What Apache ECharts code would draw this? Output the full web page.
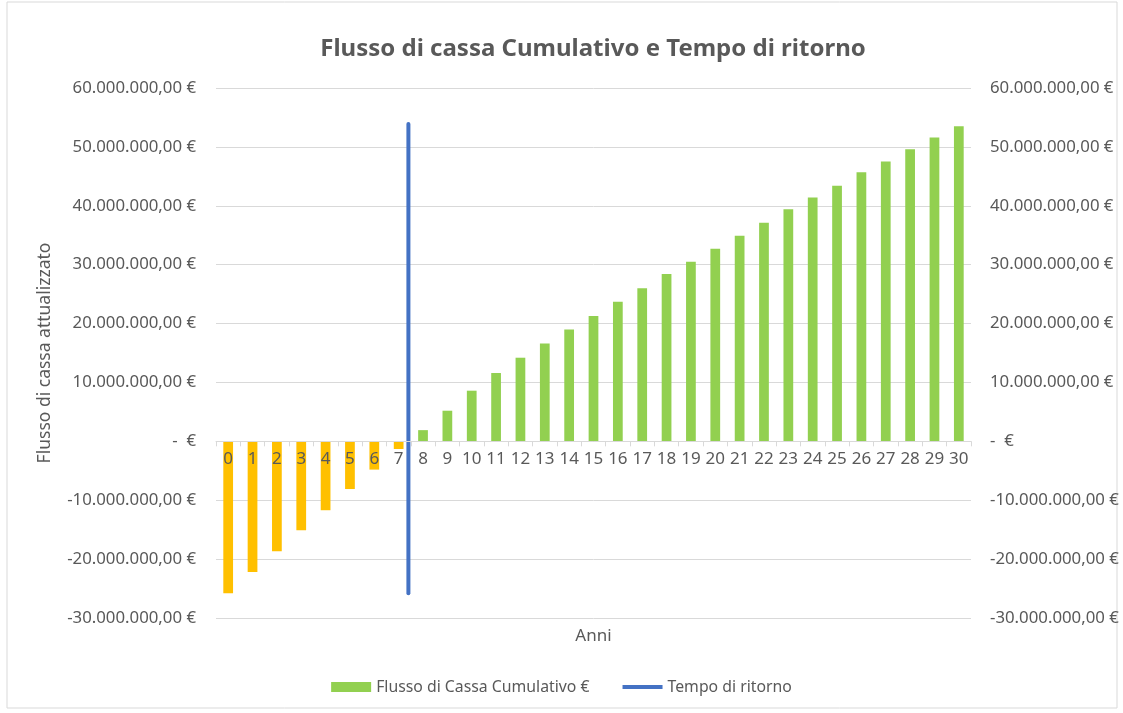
<!DOCTYPE html>
<html>
<head>
<meta charset="UTF-8">
<title>Flusso di cassa Cumulativo</title>
<script src="https://cdn.jsdelivr.net/npm/echarts@6/dist/echarts.min.js"></script>
<style>
  html, body { margin: 0; padding: 0; background: #fff; }
</style>
</head>
<body>
<div id="main" style="width: 1123px;height:713px;"></div>
<script type="text/javascript">
        // dati
        var anni = [];
        for (var i = 0; i <= 30; i++) anni.push(String(i));
        var flussoCumulativo = [
            -25800000, -22200000, -18650000, -15100000, -11700000, -8100000, -4800000, -1300000,
            1900000, 5200000, 8600000, 11600000, 14200000, 16600000, 19000000, 21300000,
            23700000, 26000000, 28400000, 30500000, 32700000, 34900000, 37100000, 39400000,
            41400000, 43400000, 45700000, 47500000, 49600000, 51600000, 53500000
        ];
        var tempoRitornoX = [7.4, 7.4];
        var tempoRitornoY = [-25800000, 53900000];

        var grigio = '#595959';
        var font = 'Noto Sans';
        var yMin = -30000000, yMax = 60000000;

        function euro(v) {
            if (v === 0) return '-  €';
            var neg = v < 0;
            var s = Math.abs(v).toFixed(0).replace(/\B(?=(\d{3})+(?!\d))/g, '.');
            return (neg ? '-' : '') + s + ',00 €';
        }

        var myChart = echarts.init(document.getElementById('main'));

        var gridTop = 88, gridBottom = 95;
        var plotH = 713 - gridTop - gridBottom;
        // sposta l'asse delle categorie sullo zero dell'asse valori
        var zeroOffset = -plotH * (0 - yMin) / (yMax - yMin);

        var barData = flussoCumulativo.map(function (v) {
            return v < 0 ? { value: v, itemStyle: { color: '#FFC000' } } : v;
        });
        var lineData = tempoRitornoX.map(function (x, k) { return [x, tempoRitornoY[k]]; });

        var option = {
            animation: false,
            textStyle: { fontFamily: font },
            title: {
                text: 'Flusso di cassa Cumulativo e Tempo di ritorno',
                left: 588,
                textAlign: 'center',
                top: 32,
                textStyle: { color: grigio, fontSize: 24, fontWeight: 'bold', fontFamily: font }
            },
            graphic: [{
                type: 'rect',
                shape: { x: 7, y: 2, width: 1110, height: 706 },
                style: { fill: 'none', stroke: '#D9D9D9', lineWidth: 1 },
                silent: true
            }],
            legend: {
                bottom: 13,
                left: 'center',
                itemGap: 33,
                itemWidth: 40,
                itemHeight: 10,
                textStyle: { color: grigio, fontSize: 15.8 },
                data: [
                    { name: 'Flusso di Cassa Cumulativo €', icon: 'rect' },
                    { name: 'Tempo di ritorno', icon: 'path://M0,0 H100 V10 H0 Z' }
                ]
            },
            grid: { left: 216, right: 152, top: gridTop, bottom: gridBottom },
            xAxis: [{
                type: 'category',
                data: anni,
                position: 'bottom',
                offset: zeroOffset,
                z: 10,
                axisLine: { onZero: false, lineStyle: { color: '#D9D9D9', width: 1 } },
                axisTick: { show: true, length: 5, lineStyle: { color: '#D9D9D9' } },
                axisLabel: { color: grigio, fontSize: 17, margin: 9, interval: 0 },
                splitLine: { show: false }
            }, {
                type: 'category',
                data: anni,
                position: 'bottom',
                name: 'Anni',
                nameLocation: 'middle',
                nameGap: 10,
                nameTextStyle: { color: grigio, fontSize: 17 },
                axisLine: { show: false, onZero: false },
                axisTick: { show: false },
                axisLabel: { show: false }
            }, {
                type: 'value',
                min: -0.5,
                max: 30.5,
                show: false
            }],
            yAxis: [{
                type: 'value',
                min: yMin,
                max: yMax,
                interval: 10000000,
                name: 'Flusso di cassa attualizzato',
                nameLocation: 'middle',
                nameGap: 162,
                nameTextStyle: { color: grigio, fontSize: 17.5 },
                axisLine: { show: false },
                axisTick: { show: false },
                axisLabel: { color: grigio, fontSize: 16.8, margin: 20, formatter: euro },
                splitLine: { lineStyle: { color: '#D9D9D9', width: 1 } }
            }, {
                type: 'value',
                min: yMin,
                max: yMax,
                interval: 10000000,
                position: 'right',
                axisLine: { show: false },
                axisTick: { show: false },
                axisLabel: { color: grigio, fontSize: 16.8, margin: 19, formatter: euro },
                splitLine: { show: false }
            }],
            series: [{
                name: 'Flusso di Cassa Cumulativo €',
                type: 'bar',
                xAxisIndex: 0,
                yAxisIndex: 0,
                barWidth: '40%',
                itemStyle: { color: '#92D050' },
                data: barData
            }, {
                name: 'Tempo di ritorno',
                type: 'line',
                xAxisIndex: 2,
                yAxisIndex: 0,
                symbol: 'none',
                color: '#4472C4',
                lineStyle: { color: '#4472C4', width: 4, cap: 'round' },
                data: lineData
            }]
        };
        myChart.setOption(option);
    </script>
</body>
</html>
